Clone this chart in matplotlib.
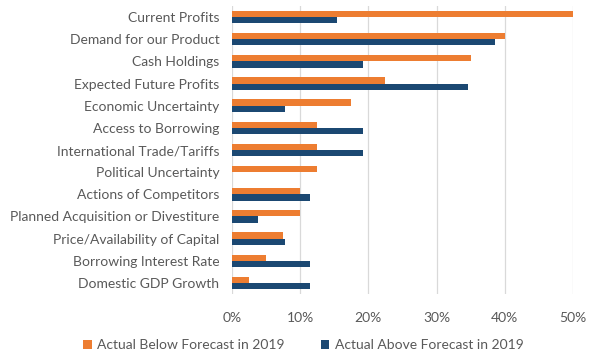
import matplotlib
matplotlib.use("Agg")
import matplotlib.pyplot as plt
import numpy as np
from matplotlib.ticker import FuncFormatter

categories = ["Current Profits", "Demand for our Product", "Cash Holdings",
              "Expected Future Profits", "Economic Uncertainty", "Access to Borrowing",
              "International Trade/Tariffs", "Political Uncertainty", "Actions of Competitors",
              "Planned Acquisition or Divestiture", "Price/Availability of Capital",
              "Borrowing Interest Rate", "Domestic GDP Growth"]
below = [50.0, 40.0, 35.0, 22.5, 17.5, 12.5, 12.5, 12.5, 10.0, 10.0, 7.5, 5.0, 2.5]
above = [15.4, 38.5, 19.2, 34.6, 7.7, 19.2, 19.2, 0.0, 11.5, 3.8, 7.7, 11.5, 11.5]
series_names = ["Actual Below Forecast in 2019", "Actual Above Forecast in 2019"]
xticks = [0, 10, 20, 30, 40, 50]

plt.rcParams['font.family'] = ['Lato', 'DejaVu Sans']
text_color = "#595959"
orange = "#ED7D31"
blue = "#1B4872"

fig = plt.figure(figsize=(6.07, 3.58), dpi=100)
ax = fig.add_axes([232/607, 1-294/358, (573-232)/607, (294-6)/358])

y = np.arange(len(categories))
h = 0.28
ax.barh(y - h/2, below, height=h, color=orange, label=series_names[0], zorder=3)
ax.barh(y + h/2, above, height=h, color=blue, label=series_names[1], zorder=3)

ax.set_ylim(len(categories) - 0.5, -0.5)
ax.set_xlim(0, 50)
ax.set_yticks(y)
ax.set_yticklabels(categories, fontsize=10, color=text_color)
ax.set_xticks(xticks)
ax.xaxis.set_major_formatter(FuncFormatter(lambda v, p: f"{v:.0f}%"))
ax.tick_params(axis='x', length=0, pad=13, labelsize=10, labelcolor=text_color)
ax.tick_params(axis='y', length=0, pad=9)
ax.grid(axis='x', color="#D9D9D9", linewidth=0.9, zorder=0)
for s in ax.spines.values():
    s.set_visible(False)

fig.legend(loc='center', bbox_to_anchor=(0.5, 1-345/358), ncol=2, frameon=False,
           fontsize=10, labelcolor=text_color, handlelength=0.6, handleheight=0.6,
           handletextpad=0.4, columnspacing=2.6)

fig.savefig("out.png", dpi=100)
